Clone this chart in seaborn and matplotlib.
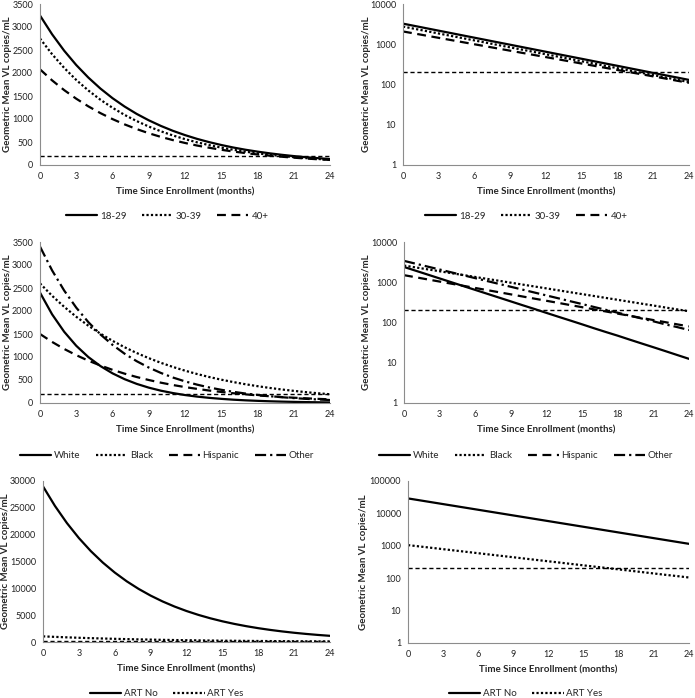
import matplotlib
matplotlib.use("Agg")
from matplotlib import pyplot as plt
import seaborn as sns

months = list(range(25))
month_ticks = [0, 3, 6, 9, 12, 15, 18, 21, 24]

# age groups
age_labels = ["18-29", "30-39", "40+"]
age_18_29 = [3250, 2842, 2485, 2173, 1901, 1662, 1453, 1271, 1111, 972, 850, 743,
             650, 568, 497, 435, 380, 332, 291, 254, 222, 194, 170, 149, 130]
age_30_39 = [2750, 2409, 2111, 1849, 1620, 1419, 1244, 1089, 955, 836, 733, 642,
             562, 493, 432, 378, 331, 290, 254, 223, 195, 171, 150, 131, 115]
age_40_plus = [2080, 1840, 1628, 1441, 1275, 1128, 998, 883, 781, 691, 611, 541,
               479, 423, 375, 331, 293, 259, 229, 203, 180, 159, 141, 124, 110]

# race / ethnicity
race_labels = ["White", "Black", "Hispanic", "Other"]
race_white = [2400, 1928, 1549, 1244, 999, 803, 645, 518, 416, 334, 268, 216,
              173, 139, 112, 90, 72, 58, 47, 37.6, 30.2, 24.3, 19.5, 15.6, 12.5]
race_black = [2600, 2331, 2091, 1875, 1681, 1508, 1352, 1212, 1087, 975, 874, 784,
              703, 630, 565, 507, 455, 408, 366, 328, 294, 264, 236, 212, 190]
race_hispanic = [1500, 1328, 1175, 1040, 920, 815, 721, 638, 565, 500, 442, 391,
                 346, 307, 271, 240, 212, 188, 166, 147, 130, 115, 102, 90, 80]
race_other = [3400, 2883, 2445, 2073, 1758, 1491, 1264, 1072, 909, 771, 654, 554,
              470, 399, 338, 287, 243, 206, 175, 148, 126, 107, 90, 77, 65]

# ART status
art_labels = ["ART No", "ART Yes"]
art_no = [29000, 25351, 22161, 19372, 16934, 14803, 12941, 11312, 9889, 8644, 7557,
          6606, 5775, 5048, 4413, 3857, 3372, 2948, 2577, 2253, 1969, 1721, 1505,
          1315, 1150]
art_yes = [1050, 954, 867, 787, 715, 650, 590, 536, 487, 443, 402, 365, 332, 302,
           274, 249, 226, 206, 187, 170, 154, 140, 127, 116, 105]

threshold = 200

sns.set_style('white')
plt.rcParams['font.family'] = ['Lato', 'DejaVu Sans']

solid = '-'
dotted = (0, (1, 1))
dashed = (0, (4, 2.5))
dashdot = (0, (5, 1.8, 1, 1.8))

groups = [
    (age_labels, [age_18_29, age_30_39, age_40_plus], [solid, dotted, dashed],
     [0, 500, 1000, 1500, 2000, 2500, 3000, 3500], 3500, [1, 10, 100, 1000, 10000]),
    (race_labels, [race_white, race_black, race_hispanic, race_other],
     [solid, dotted, dashed, dashdot],
     [0, 500, 1000, 1500, 2000, 2500, 3000, 3500], 3500, [1, 10, 100, 1000, 10000]),
    (art_labels, [art_no, art_yes], [solid, dotted],
     [0, 5000, 10000, 15000, 20000, 25000, 30000], 30000,
     [1, 10, 100, 1000, 10000, 100000]),
]

W, H = 695, 698
fig = plt.figure(figsize=(W / 100, H / 100), dpi=100)

# axes boxes in pixels: (left, right, top, bottom)
boxes = [
    [(40, 330, 4, 165), (403, 689, 4, 165)],
    [(40, 330, 242, 403), (404, 689, 242, 403)],
    [(43, 330, 481, 642), (408, 689, 481, 643)],
]
# right edge of the rotated y label, in pixels
ylabel_x = [[12, 371], [12, 371], [10, 368]]
legend_y = [216, 456, 694]
legend_x = [167, 526]

spine_col = '#8c8c8c'

for r, (labels, series, styles, lin_ticks, lin_top, log_ticks) in enumerate(groups):
    for c in range(2):
        l, rr, t, b = boxes[r][c]
        ax = fig.add_axes([l / W, 1 - b / H, (rr - l) / W, (b - t) / H])
        for lab, vals, ls in zip(labels, series, styles):
            sns.lineplot(x=months, y=vals, ax=ax, color='black', linewidth=1.6,
                         linestyle=ls, label=lab)
        ax.axhline(threshold, color='black', linewidth=1.0, linestyle=(0, (3, 2)))
        if ax.get_legend() is not None:
            ax.get_legend().remove()
        ax.set_xlim(0, 24)
        ax.set_xticks(month_ticks)
        if c == 0:
            ax.set_ylim(0, lin_top)
            ax.set_yticks(lin_ticks)
        else:
            ax.set_yscale('log')
            ax.set_ylim(log_ticks[0], log_ticks[-1])
            ax.set_yticks(log_ticks)
            ax.set_yticklabels([str(v) for v in log_ticks])
            ax.minorticks_off()
        sns.despine(ax=ax)
        for s in ['left', 'bottom']:
            ax.spines[s].set_color(spine_col)
            ax.spines[s].set_linewidth(0.8)
        ax.tick_params(axis='both', direction='out', length=3, width=0.8,
                       color=spine_col, labelsize=6.5, pad=2, labelcolor='#222222')
        ax.set_xlabel('Time Since Enrollment (months)', fontsize=7,
                      fontweight='bold', labelpad=5)
        ax.set_ylabel('Geometric Mean VL copies/mL', fontsize=7, fontweight='bold')
        ax.yaxis.set_label_coords((ylabel_x[r][c] - l) / (rr - l), 0.5)
        handles, labs = ax.get_legend_handles_labels()
        fig.legend(handles, labs, loc='center',
                   bbox_to_anchor=(legend_x[c] / W, 1 - legend_y[r] / H),
                   ncol=len(labs), frameon=False, fontsize=7,
                   handlelength=3.2, columnspacing=1.6, handletextpad=0.3)

fig.savefig('out.png', dpi=100)
